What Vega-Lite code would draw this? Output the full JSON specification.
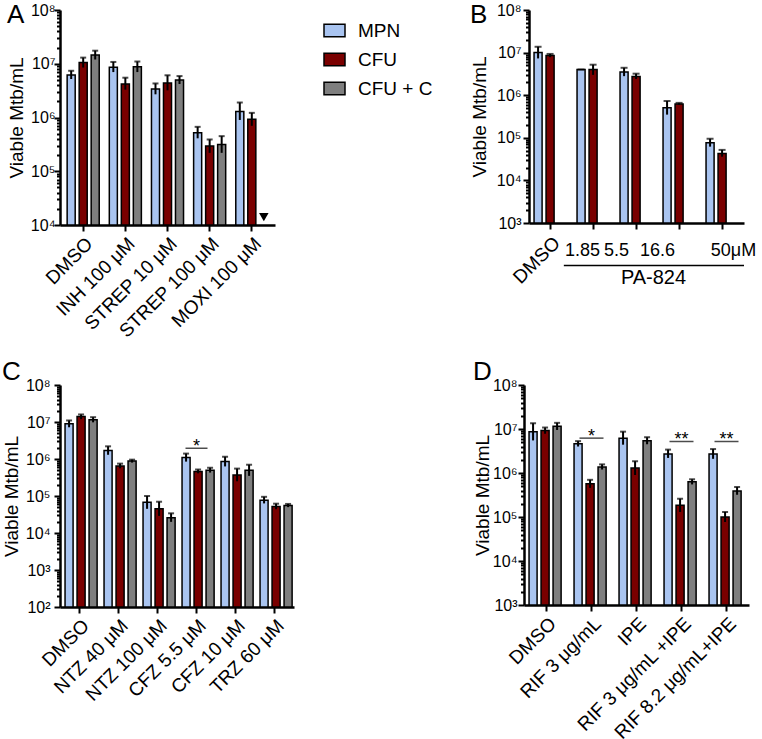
{
  "$schema": "https://vega.github.io/schema/vega-lite/v6.json",
  "padding": {"left": 1, "top": 2, "right": 0, "bottom": 0},
  "background": "white",
  "spacing": 17,
  "vconcat": [
    {
      "spacing": 194,
      "hconcat": [
        {
          "width": 215,
          "height": 215,
          "title": {"text": "A", "anchor": "start", "frame": "bounds", "dy": 30},
          "data": {"values": [
            {"cat": "DMSO", "grp": "MPN", "v": 6.2e6, "lo": 5.2e6, "hi": 7.4e6},
            {"cat": "DMSO", "grp": "CFU", "v": 1.05e7, "lo": 8.5e6, "hi": 1.3e7},
            {"cat": "DMSO", "grp": "CFU + C", "v": 1.45e7, "lo": 1.2e7, "hi": 1.75e7},
            {"cat": "INH 100 μM", "grp": "MPN", "v": 8.6e6, "lo": 7e6, "hi": 1.08e7},
            {"cat": "INH 100 μM", "grp": "CFU", "v": 4.2e6, "lo": 3.3e6, "hi": 5.5e6},
            {"cat": "INH 100 μM", "grp": "CFU + C", "v": 8.8e6, "lo": 7e6, "hi": 1.1e7},
            {"cat": "STREP 10 μM", "grp": "MPN", "v": 3.4e6, "lo": 2.7e6, "hi": 4.3e6},
            {"cat": "STREP 10 μM", "grp": "CFU", "v": 4.4e6, "lo": 3.2e6, "hi": 6.1e6},
            {"cat": "STREP 10 μM", "grp": "CFU + C", "v": 5.0e6, "lo": 4.2e6, "hi": 5.9e6},
            {"cat": "STREP 100 μM", "grp": "MPN", "v": 5.2e5, "lo": 4.1e5, "hi": 6.7e5},
            {"cat": "STREP 100 μM", "grp": "CFU", "v": 2.95e5, "lo": 2.2e5, "hi": 3.9e5},
            {"cat": "STREP 100 μM", "grp": "CFU + C", "v": 3.15e5, "lo": 2.2e5, "hi": 4.5e5},
            {"cat": "MOXI 100 μM", "grp": "MPN", "v": 1.3e6, "lo": 9e5, "hi": 1.9e6},
            {"cat": "MOXI 100 μM", "grp": "CFU", "v": 9.3e5, "lo": 7e5, "hi": 1.22e6}
          ]},
          "encoding": {
            "x": {"field": "cat", "type": "nominal",
              "scale": {"domain": ["DMSO", "INH 100 μM", "STREP 10 μM", "STREP 100 μM", "MOXI 100 μM"], "paddingInner": 0, "paddingOuter": 0.05},
              "axis": {"title": null, "labelAngle": -45, "labelFontSize": 19, "labelPadding": 3}},
            "xOffset": {"field": "grp", "type": "nominal", "scale": {"domain": ["MPN", "CFU", "CFU + C"], "paddingInner": 0.33, "paddingOuter": 0.42}}
          },
          "layer": [
            {
              "mark": {"type": "bar", "stroke": "black", "strokeWidth": 1.5},
              "encoding": {
                "y": {"field": "v", "type": "quantitative",
                  "scale": {"type": "log", "domain": [1e4, 1e8]},
                  "axis": {"title": "Viable Mtb/mL", "labelPadding": -1, "titleX": -53, "titleBaseline": "top",
                    "values": [1e4,2e4,3e4,4e4,5e4,6e4,7e4,8e4,9e4,1e5,2e5,3e5,4e5,5e5,6e5,7e5,8e5,9e5,1e6,2e6,3e6,4e6,5e6,6e6,7e6,8e6,9e6,1e7,2e7,3e7,4e7,5e7,6e7,7e7,8e7,9e7,1e8],
                    "labelExpr": "abs(log(datum.value)/LN10 - round(log(datum.value)/LN10)) < 0.001 ? '10' + ['⁰','¹','²','³','⁴','⁵','⁶','⁷','⁸'][round(log(datum.value)/LN10)] : ''",
                    "tickSize": {"condition": {"test": "abs(log(datum.value)/LN10 - round(log(datum.value)/LN10)) < 0.001", "value": 6}, "value": 3.5}}},
                "y2": {"datum": 1e4},
                "color": {"field": "grp", "type": "nominal",
                  "scale": {"domain": ["MPN", "CFU", "CFU + C"], "range": ["#a9c4f0", "#7a0000", "#7f7f7f"]},
                  "legend": {"title": null, "orient": "none", "legendX": 263, "legendY": 9}}
              }
            },
            {
              "mark": {"type": "rule", "color": "black", "strokeWidth": 2},
              "encoding": {
                "y": {"field": "lo", "type": "quantitative", "scale": {"type": "log", "domain": [1e4, 1e8]}},
                "y2": {"field": "hi"}
              }
            },
            {
              "mark": {"type": "tick", "orient": "horizontal", "color": "black", "size": 6, "thickness": 2},
              "encoding": {
                "y": {"field": "hi", "type": "quantitative", "scale": {"type": "log", "domain": [1e4, 1e8]}}
              }
            },
            {
              "data": {"values": [{"cat": "MOXI 100 μM", "grp": "CFU + C", "v": 1.4e4}]},
              "mark": {"type": "point", "shape": "triangle-down", "filled": true, "color": "black", "opacity": 1, "size": 90},
              "encoding": {
                "y": {"field": "v", "type": "quantitative", "scale": {"type": "log", "domain": [1e4, 1e8]}}
              }
            }
          ]
        },
        {
          "width": 215,
          "height": 213,
          "title": {"text": "B", "anchor": "start", "frame": "bounds", "dy": 30},
          "data": {"values": [
            {"cat": "DMSO", "grp": "MPN", "v": 1.0e7, "lo": 7.3e6, "hi": 1.37e7},
            {"cat": "DMSO", "grp": "CFU", "v": 8.5e6, "lo": 7.8e6, "hi": 9.3e6},
            {"cat": "1.85", "grp": "MPN", "v": 4.0e6, "lo": 4.0e6, "hi": 4.0e6},
            {"cat": "1.85", "grp": "CFU", "v": 4.0e6, "lo": 3.0e6, "hi": 5.2e6},
            {"cat": "5.5", "grp": "MPN", "v": 3.5e6, "lo": 2.8e6, "hi": 4.4e6},
            {"cat": "5.5", "grp": "CFU", "v": 2.75e6, "lo": 2.4e6, "hi": 3.2e6},
            {"cat": "16.6", "grp": "MPN", "v": 5.1e5, "lo": 3.5e5, "hi": 7.3e5},
            {"cat": "16.6", "grp": "CFU", "v": 6.2e5, "lo": 5.9e5, "hi": 6.6e5},
            {"cat": "50", "grp": "MPN", "v": 7.7e4, "lo": 6.2e4, "hi": 9.5e4},
            {"cat": "50", "grp": "CFU", "v": 4.3e4, "lo": 3.6e4, "hi": 5.2e4}
          ]},
          "encoding": {
            "x": {"field": "cat", "type": "nominal",
              "scale": {"domain": ["DMSO", "1.85", "5.5", "16.6", "50"], "paddingInner": 0, "paddingOuter": 0},
              "axis": {"title": null, "labelAngle": 0, "labelFontSize": 18, "labelPadding": 12, "labelBaseline": "top",
                "labelExpr": "datum.value == 'DMSO' ? '' : datum.value == '50' ? '50μM' : datum.value",
                "labelOffset": {"condition": [
                  {"test": "datum.value == '1.85'", "value": -11},
                  {"test": "datum.value == '5.5'", "value": -20},
                  {"test": "datum.value == '16.6'", "value": -22},
                  {"test": "datum.value == '50'", "value": 11}
                ], "value": 0}}}
          },
          "layer": [
            {
              "mark": {"type": "bar", "stroke": "black", "strokeWidth": 1.5},
              "encoding": {
                "xOffset": {"field": "grp", "type": "nominal", "scale": {"domain": ["MPN", "CFU"], "paddingInner": 0.47, "paddingOuter": 0.5}},
                "y": {"field": "v", "type": "quantitative",
                  "scale": {"type": "log", "domain": [1e3, 1e8]},
                  "axis": {"title": "Viable Mtb/mL", "labelPadding": 2, "titleX": -59, "titleBaseline": "top",
                    "values": [1e3,2e3,3e3,4e3,5e3,6e3,7e3,8e3,9e3,1e4,2e4,3e4,4e4,5e4,6e4,7e4,8e4,9e4,1e5,2e5,3e5,4e5,5e5,6e5,7e5,8e5,9e5,1e6,2e6,3e6,4e6,5e6,6e6,7e6,8e6,9e6,1e7,2e7,3e7,4e7,5e7,6e7,7e7,8e7,9e7,1e8],
                    "labelExpr": "abs(log(datum.value)/LN10 - round(log(datum.value)/LN10)) < 0.001 ? '10' + ['⁰','¹','²','³','⁴','⁵','⁶','⁷','⁸'][round(log(datum.value)/LN10)] : ''",
                    "tickSize": {"condition": {"test": "abs(log(datum.value)/LN10 - round(log(datum.value)/LN10)) < 0.001", "value": 6}, "value": 3.5}}},
                "y2": {"datum": 1e3},
                "color": {"field": "grp", "type": "nominal",
                  "scale": {"domain": ["MPN", "CFU"], "range": ["#a9c4f0", "#7a0000"]},
                  "legend": null}
              }
            },
            {
              "mark": {"type": "rule", "color": "black", "strokeWidth": 2},
              "encoding": {
                "xOffset": {"field": "grp", "type": "nominal"},
                "y": {"field": "lo", "type": "quantitative", "scale": {"type": "log", "domain": [1e3, 1e8]}},
                "y2": {"field": "hi"}
              }
            },
            {
              "mark": {"type": "tick", "orient": "horizontal", "color": "black", "size": 7, "thickness": 2},
              "encoding": {
                "xOffset": {"field": "grp", "type": "nominal"},
                "y": {"field": "hi", "type": "quantitative", "scale": {"type": "log", "domain": [1e3, 1e8]}}
              }
            },
            {
              "data": {"values": [{"from": "DMSO", "to": "50"}]},
              "mark": {"type": "rule", "color": "black", "strokeWidth": 1.5},
              "encoding": {
                "x": {"field": "from", "type": "nominal", "bandPosition": 0.81},
                "x2": {"field": "to", "bandPosition": 1},
                "y": {"datum": 100, "type": "quantitative", "scale": {"type": "log", "domain": [1e3, 1e8]}}
              }
            },
            {
              "data": {"values": [{"cat": "5.5", "label": "PA-824"}]},
              "mark": {"type": "text", "fontSize": 20, "fontWeight": "normal", "dx": 17, "baseline": "middle"},
              "encoding": {
                "x": {"field": "cat", "type": "nominal"},
                "y": {"datum": 52, "type": "quantitative", "scale": {"type": "log", "domain": [1e3, 1e8]}},
                "text": {"field": "label"}
              }
            },
            {
              "data": {"values": [{"cat": "DMSO", "label": "DMSO"}]},
              "mark": {"type": "text", "fontSize": 19, "angle": -45, "align": "right", "baseline": "top"},
              "encoding": {
                "x": {"field": "cat", "type": "nominal"},
                "y": {"datum": 560, "type": "quantitative", "scale": {"type": "log", "domain": [1e3, 1e8]}},
                "text": {"field": "label"}
              }
            }
          ]
        }
      ]
    },
    {
      "spacing": 179,
      "hconcat": [
        {
          "width": 234,
          "height": 222,
          "title": {"text": "C", "anchor": "start", "frame": "bounds", "dy": 12},
          "data": {"values": [
            {"cat": "DMSO", "grp": "MPN", "v": 9e6, "lo": 7.2e6, "hi": 1.1e7},
            {"cat": "DMSO", "grp": "CFU", "v": 1.4e7, "lo": 1.2e7, "hi": 1.6e7},
            {"cat": "DMSO", "grp": "CFU + C", "v": 1.15e7, "lo": 9.8e6, "hi": 1.35e7},
            {"cat": "NTZ 40 μM", "grp": "MPN", "v": 1.7e6, "lo": 1.3e6, "hi": 2.2e6},
            {"cat": "NTZ 40 μM", "grp": "CFU", "v": 6.5e5, "lo": 5.6e5, "hi": 7.5e5},
            {"cat": "NTZ 40 μM", "grp": "CFU + C", "v": 8.8e5, "lo": 8e5, "hi": 9.6e5},
            {"cat": "NTZ 100 μM", "grp": "MPN", "v": 6.8e4, "lo": 4.5e4, "hi": 1.0e5},
            {"cat": "NTZ 100 μM", "grp": "CFU", "v": 4.5e4, "lo": 2.9e4, "hi": 7.0e4},
            {"cat": "NTZ 100 μM", "grp": "CFU + C", "v": 2.6e4, "lo": 2.0e4, "hi": 3.4e4},
            {"cat": "CFZ 5.5 μM", "grp": "MPN", "v": 1.1e6, "lo": 8.5e5, "hi": 1.4e6},
            {"cat": "CFZ 5.5 μM", "grp": "CFU", "v": 4.6e5, "lo": 4.1e5, "hi": 5.2e5},
            {"cat": "CFZ 5.5 μM", "grp": "CFU + C", "v": 5.0e5, "lo": 4.3e5, "hi": 5.8e5},
            {"cat": "CFZ 10 μM", "grp": "MPN", "v": 8.5e5, "lo": 6.3e5, "hi": 1.15e6},
            {"cat": "CFZ 10 μM", "grp": "CFU", "v": 3.7e5, "lo": 2.5e5, "hi": 5.5e5},
            {"cat": "CFZ 10 μM", "grp": "CFU + C", "v": 5.0e5, "lo": 3.5e5, "hi": 7.0e5},
            {"cat": "TRZ 60 μM", "grp": "MPN", "v": 7.7e4, "lo": 6.3e4, "hi": 9.5e4},
            {"cat": "TRZ 60 μM", "grp": "CFU", "v": 5.2e4, "lo": 4.4e4, "hi": 6.2e4},
            {"cat": "TRZ 60 μM", "grp": "CFU + C", "v": 5.5e4, "lo": 5.0e4, "hi": 6.1e4}
          ]},
          "encoding": {
            "x": {"field": "cat", "type": "nominal",
              "scale": {"domain": ["DMSO", "NTZ 40 μM", "NTZ 100 μM", "CFZ 5.5 μM", "CFZ 10 μM", "TRZ 60 μM"], "paddingInner": 0, "paddingOuter": 0},
              "axis": {"title": null, "labelAngle": -45, "labelFontSize": 19, "labelPadding": 3}}
          },
          "layer": [
            {
              "mark": {"type": "bar", "stroke": "black", "strokeWidth": 1.5},
              "encoding": {
                "xOffset": {"field": "grp", "type": "nominal", "scale": {"domain": ["MPN", "CFU", "CFU + C"], "paddingInner": 0.346, "paddingOuter": 0.495}},
                "y": {"field": "v", "type": "quantitative",
                  "scale": {"type": "log", "domain": [1e2, 1e8]},
                  "axis": {"title": "Viable Mtb/mL", "labelPadding": 4, "titleX": -58, "titleBaseline": "top",
                    "values": [1e2,2e2,3e2,4e2,5e2,6e2,7e2,8e2,9e2,1e3,2e3,3e3,4e3,5e3,6e3,7e3,8e3,9e3,1e4,2e4,3e4,4e4,5e4,6e4,7e4,8e4,9e4,1e5,2e5,3e5,4e5,5e5,6e5,7e5,8e5,9e5,1e6,2e6,3e6,4e6,5e6,6e6,7e6,8e6,9e6,1e7,2e7,3e7,4e7,5e7,6e7,7e7,8e7,9e7,1e8],
                    "labelExpr": "abs(log(datum.value)/LN10 - round(log(datum.value)/LN10)) < 0.001 ? '10' + ['⁰','¹','²','³','⁴','⁵','⁶','⁷','⁸'][round(log(datum.value)/LN10)] : ''",
                    "tickSize": {"condition": {"test": "abs(log(datum.value)/LN10 - round(log(datum.value)/LN10)) < 0.001", "value": 6}, "value": 3.5}}},
                "y2": {"datum": 1e2},
                "color": {"field": "grp", "type": "nominal",
                  "scale": {"domain": ["MPN", "CFU", "CFU + C"], "range": ["#a9c4f0", "#7a0000", "#7f7f7f"]},
                  "legend": {"title": null, "orient": "none", "legendX": 260, "legendY": 42}}
              }
            },
            {
              "mark": {"type": "rule", "color": "black", "strokeWidth": 2},
              "encoding": {
                "xOffset": {"field": "grp", "type": "nominal"},
                "y": {"field": "lo", "type": "quantitative", "scale": {"type": "log", "domain": [1e2, 1e8]}},
                "y2": {"field": "hi"}
              }
            },
            {
              "mark": {"type": "tick", "orient": "horizontal", "color": "black", "size": 6, "thickness": 2},
              "encoding": {
                "xOffset": {"field": "grp", "type": "nominal"},
                "y": {"field": "hi", "type": "quantitative", "scale": {"type": "log", "domain": [1e2, 1e8]}}
              }
            },
            {
              "data": {"values": [{"cat": "CFZ 5.5 μM", "y": 1.95e6, "label": "*"}]},
              "mark": {"type": "tick", "orient": "horizontal", "color": "black", "size": 22, "thickness": 1.5},
              "encoding": {
                "y": {"field": "y", "type": "quantitative", "scale": {"type": "log", "domain": [1e2, 1e8]}}
              }
            },
            {
              "data": {"values": [{"cat": "CFZ 5.5 μM", "y": 1.95e6, "label": "*"}]},
              "mark": {"type": "text", "fontSize": 18, "baseline": "alphabetic", "dy": 4},
              "encoding": {
                "y": {"field": "y", "type": "quantitative", "scale": {"type": "log", "domain": [1e2, 1e8]}},
                "text": {"field": "label"}
              }
            }
          ]
        },
        {
          "width": 225,
          "height": 220,
          "title": {"text": "D", "anchor": "start", "frame": "bounds", "dy": 12},
          "data": {"values": [
            {"cat": "DMSO", "grp": "MPN", "v": 8.7e6, "lo": 5.5e6, "hi": 1.35e7},
            {"cat": "DMSO", "grp": "CFU", "v": 9.2e6, "lo": 7.8e6, "hi": 1.08e7},
            {"cat": "DMSO", "grp": "CFU + C", "v": 1.15e7, "lo": 9.5e6, "hi": 1.38e7},
            {"cat": "RIF 3 μg/mL", "grp": "MPN", "v": 4.6e6, "lo": 4.0e6, "hi": 5.3e6},
            {"cat": "RIF 3 μg/mL", "grp": "CFU", "v": 5.7e5, "lo": 4.6e5, "hi": 7.0e5},
            {"cat": "RIF 3 μg/mL", "grp": "CFU + C", "v": 1.37e6, "lo": 1.2e6, "hi": 1.57e6},
            {"cat": "IPE", "grp": "MPN", "v": 6.2e6, "lo": 4.4e6, "hi": 8.7e6},
            {"cat": "IPE", "grp": "CFU", "v": 1.3e6, "lo": 9e5, "hi": 1.85e6},
            {"cat": "IPE", "grp": "CFU + C", "v": 5.4e6, "lo": 4.5e6, "hi": 6.5e6},
            {"cat": "RIF 3 μg/mL +IPE", "grp": "MPN", "v": 2.7e6, "lo": 2.2e6, "hi": 3.4e6},
            {"cat": "RIF 3 μg/mL +IPE", "grp": "CFU", "v": 1.85e5, "lo": 1.3e5, "hi": 2.6e5},
            {"cat": "RIF 3 μg/mL +IPE", "grp": "CFU + C", "v": 6.3e5, "lo": 5.5e5, "hi": 7.2e5},
            {"cat": "RIF 8.2 μg/mL+IPE", "grp": "MPN", "v": 2.7e6, "lo": 2.1e6, "hi": 3.5e6},
            {"cat": "RIF 8.2 μg/mL+IPE", "grp": "CFU", "v": 1.0e5, "lo": 7.7e4, "hi": 1.3e5},
            {"cat": "RIF 8.2 μg/mL+IPE", "grp": "CFU + C", "v": 3.9e5, "lo": 3.2e5, "hi": 4.8e5}
          ]},
          "encoding": {
            "x": {"field": "cat", "type": "nominal",
              "scale": {"domain": ["DMSO", "RIF 3 μg/mL", "IPE", "RIF 3 μg/mL +IPE", "RIF 8.2 μg/mL+IPE"], "paddingInner": 0, "paddingOuter": 0},
              "axis": {"title": null, "labelAngle": -45, "labelFontSize": 19, "labelPadding": 3}}
          },
          "layer": [
            {
              "mark": {"type": "bar", "stroke": "black", "strokeWidth": 1.5},
              "encoding": {
                "xOffset": {"field": "grp", "type": "nominal", "scale": {"domain": ["MPN", "CFU", "CFU + C"], "paddingInner": 0.31, "paddingOuter": 0.485}},
                "y": {"field": "v", "type": "quantitative",
                  "scale": {"type": "log", "domain": [1e3, 1e8]},
                  "axis": {"title": "Viable Mtb/mL", "labelPadding": 1, "titleX": -51, "titleBaseline": "top",
                    "values": [1e3,2e3,3e3,4e3,5e3,6e3,7e3,8e3,9e3,1e4,2e4,3e4,4e4,5e4,6e4,7e4,8e4,9e4,1e5,2e5,3e5,4e5,5e5,6e5,7e5,8e5,9e5,1e6,2e6,3e6,4e6,5e6,6e6,7e6,8e6,9e6,1e7,2e7,3e7,4e7,5e7,6e7,7e7,8e7,9e7,1e8],
                    "labelExpr": "abs(log(datum.value)/LN10 - round(log(datum.value)/LN10)) < 0.001 ? '10' + ['⁰','¹','²','³','⁴','⁵','⁶','⁷','⁸'][round(log(datum.value)/LN10)] : ''",
                    "tickSize": {"condition": {"test": "abs(log(datum.value)/LN10 - round(log(datum.value)/LN10)) < 0.001", "value": 6}, "value": 3.5}}},
                "y2": {"datum": 1e3},
                "color": {"field": "grp", "type": "nominal",
                  "scale": {"domain": ["MPN", "CFU", "CFU + C"], "range": ["#a9c4f0", "#7a0000", "#7f7f7f"]},
                  "legend": null}
              }
            },
            {
              "mark": {"type": "rule", "color": "black", "strokeWidth": 2},
              "encoding": {
                "xOffset": {"field": "grp", "type": "nominal"},
                "y": {"field": "lo", "type": "quantitative", "scale": {"type": "log", "domain": [1e3, 1e8]}},
                "y2": {"field": "hi"}
              }
            },
            {
              "mark": {"type": "tick", "orient": "horizontal", "color": "black", "size": 6, "thickness": 2},
              "encoding": {
                "xOffset": {"field": "grp", "type": "nominal"},
                "y": {"field": "hi", "type": "quantitative", "scale": {"type": "log", "domain": [1e3, 1e8]}}
              }
            },
            {
              "data": {"values": [
                {"cat": "RIF 3 μg/mL", "y": 6.2e6, "label": "*"},
                {"cat": "RIF 3 μg/mL +IPE", "y": 5.2e6, "label": "**"},
                {"cat": "RIF 8.2 μg/mL+IPE", "y": 5.2e6, "label": "**"}
              ]},
              "mark": {"type": "tick", "orient": "horizontal", "color": "black", "size": 24, "thickness": 1.5},
              "encoding": {
                "y": {"field": "y", "type": "quantitative", "scale": {"type": "log", "domain": [1e3, 1e8]}}
              }
            },
            {
              "data": {"values": [
                {"cat": "RIF 3 μg/mL", "y": 6.2e6, "label": "*"},
                {"cat": "RIF 3 μg/mL +IPE", "y": 5.2e6, "label": "**"},
                {"cat": "RIF 8.2 μg/mL+IPE", "y": 5.2e6, "label": "**"}
              ]},
              "mark": {"type": "text", "fontSize": 18, "baseline": "alphabetic", "dy": 4},
              "encoding": {
                "y": {"field": "y", "type": "quantitative", "scale": {"type": "log", "domain": [1e3, 1e8]}},
                "text": {"field": "label"}
              }
            }
          ]
        }
      ]
    }
  ],
  "config": {
    "font": "Liberation Sans",
    "view": {"stroke": null},
    "title": {"fontSize": 26, "fontWeight": "normal", "color": "black", "offset": 0},
    "text": {"color": "black"},
    "axis": {"grid": false, "domainColor": "black", "domainWidth": 2.5, "tickColor": "black", "tickWidth": 2, "tickSize": 6,
      "labelColor": "black", "labelFontSize": 16, "titleColor": "black", "titleFontSize": 19, "titleFontWeight": "normal",
      "labelOverlap": false, "labelFlush": false, "labelBound": false, "labelPadding": 2, "titlePadding": 3},
    "legend": {"symbolType": "M-1,-0.6H1V0.6H-1Z", "symbolSize": 441, "symbolStrokeColor": "black", "symbolStrokeWidth": 1.5,
      "symbolOpacity": 1, "labelFontSize": 19, "labelColor": "black", "labelOffset": 12, "rowPadding": 7, "padding": 0}
  }
}
